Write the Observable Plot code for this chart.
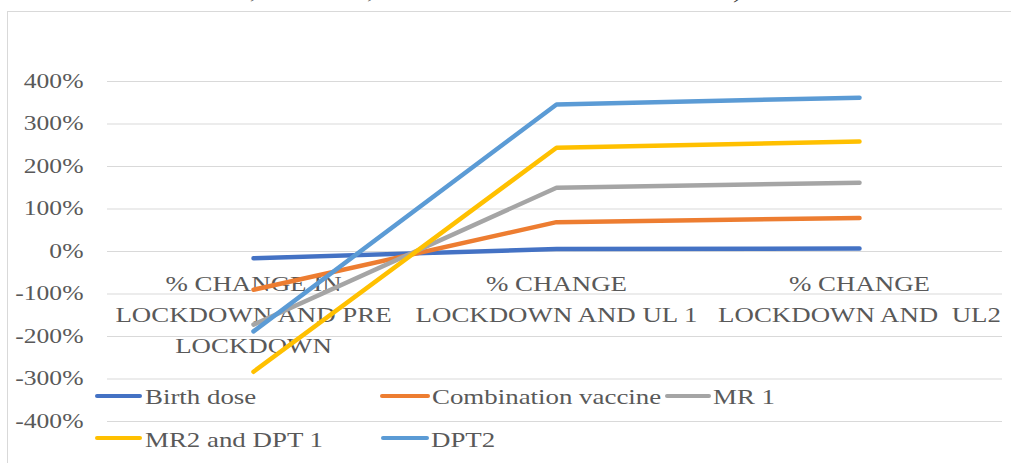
<!DOCTYPE html>
<html>
<head>
<meta charset="utf-8">
<script src="https://cdn.jsdelivr.net/npm/d3@7"></script>
<script src="https://cdn.jsdelivr.net/npm/@observablehq/plot@0.6"></script>
<style>
  html, body { margin: 0; padding: 0; background: #fff; overflow: hidden; }
  #wrap { position: relative; width: 1011px; height: 463px; overflow: hidden; font-family: "Liberation Serif", "Times New Roman", serif; }
  #frame { position: absolute; left: 7px; top: 11px; width: 1020px; height: 470px; border: 1px solid #d9d9d9; box-sizing: border-box; }
  #title { position: absolute; left: 250px; top: -20px; font-style: italic; font-size: 20px; color: #333; white-space: pre; transform: scaleX(1.28); transform-origin: left; }
  #chart { position: absolute; left: 0; top: 0; }
  .leg { position: absolute; font-size: 21px; line-height: 21px; color: #595959; white-space: pre; transform: scaleX(1.28); transform-origin: left; }
  .sw { position: absolute; height: 4.5px; border-radius: 2px; }
</style>
</head>
<body>
<div id="wrap">
  <div id="frame"></div>
  <div id="title"></div>
  <div id="chart"></div>
</div>
<script>
// ---- data ----
const categories = [
  "% CHANGE IN LOCKDOWN AND PRE LOCKDOWN",
  "% CHANGE LOCKDOWN AND UL 1",
  "% CHANGE LOCKDOWN AND  UL2"
];
const categoryLabels = [
  "% CHANGE IN\nLOCKDOWN AND PRE\nLOCKDOWN",
  "% CHANGE\nLOCKDOWN AND UL 1",
  "% CHANGE\nLOCKDOWN AND  UL2"
];
const seriesNames = ["Birth dose", "Combination vaccine", "MR 1", "MR2 and DPT 1", "DPT2"];
const seriesColors = ["#4472C4", "#ED7D31", "#A5A5A5", "#FFC000", "#5B9BD5"];
const birthDose = [-16, 6, 7];
const combinationVaccine = [-90, 69, 79];
const mr1 = [-172, 150, 162];
const mr2AndDpt1 = [-283, 244, 259];
const dpt2 = [-188, 346, 362];
const yTicks = [-400, -300, -200, -100, 0, 100, 200, 300, 400];
const titleText = ", lockdown ,Unlock down 1 and Unlock down 2).";

const seriesValues = [birthDose, combinationVaccine, mr1, mr2AndDpt1, dpt2];
const rows = [];
seriesNames.forEach((s, si) => {
  categories.forEach((c, ci) => rows.push({series: s, category: c, value: seriesValues[si][ci]}));
});

const font = "'Liberation Serif', 'Times New Roman', serif";

const chart = Plot.plot({
  width: 1011,
  height: 463,
  marginTop: 81,
  marginBottom: 42,
  marginLeft: 107,
  marginRight: 9,
  style: {fontFamily: font, background: "transparent", color: "#595959"},
  x: {type: "point", domain: categories, range: [253, 859], padding: 0, axis: null},
  y: {domain: [-400, 400], axis: null},
  color: {domain: seriesNames, range: seriesColors},
  marks: [
    Plot.ruleY(yTicks, {stroke: "#d9d9d9", strokeWidth: 1}),
    Plot.text(yTicks, {y: d => d, text: d => d + "%", frameAnchor: "left", dx: -24, textAnchor: "end", fontSize: 20, fill: "#595959"}),
    Plot.text(categories, {x: d => d, y: () => 0, text: (d, i) => categoryLabels[i], lineAnchor: "top", dy: 17, lineHeight: 1.48, fontSize: 21, fill: "#595959"}),
    Plot.line(rows, {x: "category", y: "value", z: "series", stroke: "series", strokeWidth: 4.5, strokeLinecap: "round", strokeLinejoin: "round"})
  ]
});

// horizontally stretch text like the source image
const S = 1.28;
chart.querySelectorAll("text").forEach(t => {
  const tr = t.getAttribute("transform");
  if (tr && tr.includes("translate")) {
    t.setAttribute("transform", tr + ` scale(${S},1)`);
  } else {
    const x = parseFloat(t.getAttribute("x") || "0");
    t.setAttribute("x", x / S);
    t.setAttribute("transform", (tr || "") + ` scale(${S},1)`);
  }
});
document.getElementById("chart").appendChild(chart);

document.getElementById("title").textContent = titleText;

// legend
const legendItems = [
  {name: seriesNames[0], color: seriesColors[0], sx: 95, sw: 47, tx: 145, row: 0},
  {name: seriesNames[1], color: seriesColors[1], sx: 380, sw: 50, tx: 432, row: 0},
  {name: seriesNames[2], color: seriesColors[2], sx: 665, sw: 46, tx: 713, row: 0},
  {name: seriesNames[3], color: seriesColors[3], sx: 95, sw: 47, tx: 145, row: 1},
  {name: seriesNames[4], color: seriesColors[4], sx: 381, sw: 48, tx: 431, row: 1}
];
const wrap = document.getElementById("wrap");
const rowLineY = [396, 438];
const rowTextTop = [387, 430];
legendItems.forEach(it => {
  const sw = document.createElement("div");
  sw.className = "sw";
  sw.style.left = it.sx + "px";
  sw.style.width = it.sw + "px";
  sw.style.top = (rowLineY[it.row] - 2.25) + "px";
  sw.style.background = it.color;
  wrap.appendChild(sw);
  const tx = document.createElement("div");
  tx.className = "leg";
  tx.style.left = it.tx + "px";
  tx.style.top = rowTextTop[it.row] + "px";
  tx.textContent = it.name;
  wrap.appendChild(tx);
});
</script>
</body>
</html>
